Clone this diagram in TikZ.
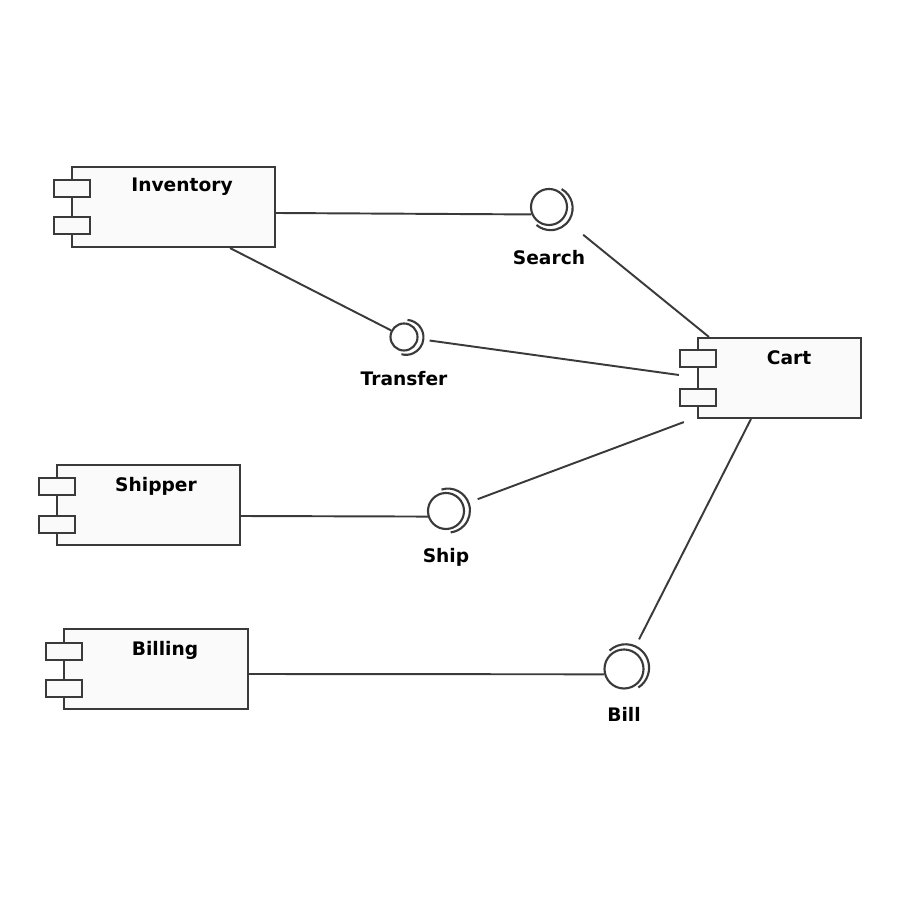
\documentclass[tikz,border=0pt]{standalone}
\usepackage{fontspec}
\setmainfont{DejaVu Sans}
\usetikzlibrary{positioning}
\definecolor{umlline}{HTML}{3A3A3A}
\definecolor{umlfill}{HTML}{FAFAFA}
\tikzset{
  comp/.style={draw=umlline, fill=umlfill, line width=0.6pt, minimum height=0.8cm, inner sep=0pt},
  port/.style={draw=umlline, fill=umlfill, line width=0.6pt, minimum width=0.36cm, minimum height=0.17cm, inner sep=0pt},
  iball/.style={circle, draw=umlline, fill=white, line width=0.6pt, inner sep=0pt},
  compname/.style={font=\fontsize{5.3}{6}\selectfont\bfseries, inner sep=0pt},
  wire/.style={draw=umlline, line width=0.55pt},
}
\begin{document}
\begin{tikzpicture}[x=0.01cm,y=0.01cm]
  \useasboundingbox[fill=white] (0,0) rectangle (900,900);

  % components
  \node[comp, minimum width=2.03cm] (inv)  at (173.5,693) {};
  \node[comp, minimum width=1.63cm] (cart) at (779.5,522) {};
  \node[comp, minimum width=1.83cm] (shpr) at (148.5,395) {};
  \node[comp, minimum width=1.84cm] (bill) at (156,231) {};
  \foreach \c/\x/\ya/\yb in {inv/72/711.5/674.5, cart/698/541.5/502.5, shpr/57/413.5/375.5, bill/64/248.5/211.5}{
    \node[port] (\c p1) at (\x,\ya) {};
    \node[port] (\c p2) at (\x,\yb) {};
  }
  \node[compname] (invl)  at (182,713) {Inventory};
  \node[compname] (cartl) at (789,542) {Cart};
  \node[compname] (shprl) at (156,414) {Shipper};
  \node[compname] (billl) at (165,250) {Billing};

  % provided interfaces
  \node[iball, minimum size=0.36cm] (srch) at (549,693) {};
  \node[iball, minimum size=0.27cm] (trf)  at (404,563) {};
  \node[iball, minimum size=0.36cm] (shp)  at (446,389) {};
  \node[iball, minimum size=0.39cm] (bll)  at (624,231) {};
  \node[compname, below=0.24cm of srch] (srchl) {Search};
  \node[compname, below=0.19cm of trf]  (trfl)  {Transfer};
  \node[compname, below=0.18cm of shp]  (shpl)  {Ship};
  \node[compname, below=0.17cm of bll]  (blll)  {Bill};

  % sockets facing the cart
  \foreach \n/\r/\d in {srch/18/-35, trf/13.5/-10, shp/18/12, bll/19.5/38}
    \draw[umlline, line width=0.6pt] ([shift={(\d:2)}]\n.center) ++(\d+95:\r+4) arc[start angle=\d+95, end angle=\d-95, radius=\r+4];

  % connectors
  \draw[wire] ([yshift=-0.06cm]inv.east) -- (srch.203);
  \draw[wire] ([xshift=0.565cm]inv.south) -- (trf);
  \draw[wire] ([yshift=-0.11cm]shpr.east) -- (shp.197);
  \draw[wire] ([yshift=-0.05cm]bill.east) -- (bll.195);
  \draw[wire, shorten >=7.1pt] ([xshift=0.12cm]cart.north west) -- (srch);
  \draw[wire, shorten >=3.2pt] ([xshift=-0.18cm,yshift=0.03cm]cart.west) -- (trf);
  \draw[wire, shorten >=4.2pt] ([xshift=-0.13cm,yshift=-0.03cm]cart.south west) -- (shp);
  \draw[wire, shorten >=3.6pt] ([xshift=0.54cm]cart.south west) -- (bll);
\end{tikzpicture}
\end{document}
